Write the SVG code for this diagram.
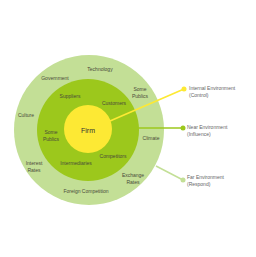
<svg xmlns="http://www.w3.org/2000/svg" width="256" height="257" viewBox="0 0 256 257">
<style>
.t{font-family:"Liberation Sans",Arial,sans-serif;font-size:5px;fill:#4a4a3a;text-anchor:middle}
.l{font-family:"Liberation Sans",Arial,sans-serif;font-size:5px;fill:#666;text-anchor:start}
</style>
<rect width="256" height="257" fill="#fff"/>
<g id="far"><circle cx="89" cy="130" r="75" fill="#c3df96"/></g>
<g id="near"><circle cx="88" cy="130" r="51" fill="#9cc81c"/></g>
<g id="firm"><circle cx="88" cy="129" r="24" fill="#fde934"/>
<text class="t" x="88" y="133" style="font-size:7px;fill:#333">Firm</text></g>
<g id="connectors">
<line x1="110" y1="121" x2="184" y2="89" stroke="#fde934" stroke-width="1.5"/>
<circle cx="184" cy="89" r="2.5" fill="#fde934"/>
<line x1="138" y1="128" x2="183" y2="128" stroke="#9cc81c" stroke-width="1.5"/>
<circle cx="183" cy="128" r="2.5" fill="#9cc81c"/>
<line x1="156" y1="166" x2="183" y2="180" stroke="#c3df96" stroke-width="1.5"/>
<circle cx="183" cy="180" r="2.5" fill="#c3df96"/>
</g>
<g id="far-labels">
<text class="t" x="100" y="71">Technology</text>
<text class="t" x="55" y="80">Government</text>
<text class="t" x="140" y="91">Some</text>
<text class="t" x="140" y="98">Publics</text>
<text class="t" x="26" y="117">Culture</text>
<text class="t" x="151" y="140">Climate</text>
<text class="t" x="34" y="165">Interest</text>
<text class="t" x="34" y="172">Rates</text>
<text class="t" x="133" y="177">Exchange</text>
<text class="t" x="133" y="184">Rates</text>
<text class="t" x="86" y="193">Foreign Competition</text>
</g>
<g id="near-labels">
<text class="t" x="70" y="98">Suppliers</text>
<text class="t" x="114" y="105">Customers</text>
<text class="t" x="51" y="134">Some</text>
<text class="t" x="51" y="141">Publics</text>
<text class="t" x="76" y="165">Intermediaries</text>
<text class="t" x="113" y="158">Competitors</text>
</g>
<g id="legend">
<text class="l" x="189" y="90">Internal Environment</text>
<text class="l" x="189" y="97">(Control)</text>
<text class="l" x="187" y="129">Near Environment</text>
<text class="l" x="187" y="136">(Influence)</text>
<text class="l" x="187" y="179">Far Environment</text>
<text class="l" x="187" y="186">(Respond)</text>
</g>
</svg>
